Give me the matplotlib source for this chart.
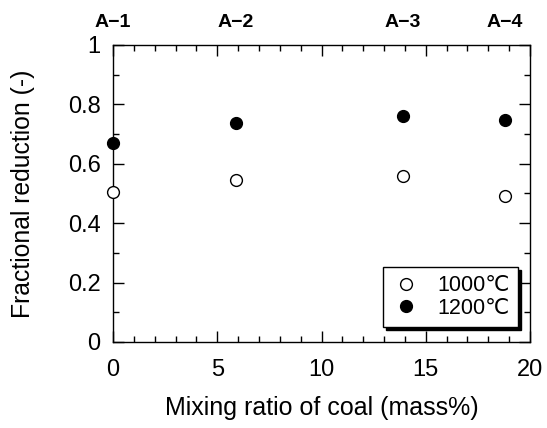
import matplotlib
matplotlib.use("Agg")
import matplotlib.pyplot as plt
from matplotlib.ticker import MultipleLocator

plt.rcParams['font.family'] = ['Liberation Sans', 'DejaVu Sans']

mixing_ratio = [0, 5.9, 13.9, 18.8]
sample_labels = ['A\u22121', 'A\u22122', 'A\u22123', 'A\u22124']
red_1000 = [0.506, 0.544, 0.559, 0.490]
red_1200 = [0.669, 0.736, 0.761, 0.748]

fig = plt.figure(figsize=(5.47, 4.28), dpi=100)
ax = fig.add_axes([0.2066, 0.201, 0.7624, 0.694])

ax.plot(mixing_ratio, red_1000, 'o', ms=8.5, mfc='white', mec='black', mew=1.0,
        label='1000\u2103', clip_on=False, zorder=5)
ax.plot(mixing_ratio, red_1200, 'o', ms=8.5, mfc='black', mec='black', mew=1.0,
        label='1200\u2103', clip_on=False, zorder=5)

ax.set_xlim(0, 20)
ax.set_ylim(0, 1)
ax.xaxis.set_major_locator(MultipleLocator(5))
ax.xaxis.set_minor_locator(MultipleLocator(1))
ax.yaxis.set_minor_locator(MultipleLocator(0.1))
ax.set_yticks([0, 0.2, 0.4, 0.6, 0.8, 1.0])
ax.set_yticklabels(['0', '0.2', '0.4', '0.6', '0.8', '1'])
ax.tick_params(which='both', direction='in', top=True, right=True, labelsize=17)
ax.tick_params(which='major', length=8, width=1)
ax.tick_params(which='minor', length=4, width=1)
ax.tick_params(axis='x', which='major', pad=12)
ax.tick_params(axis='y', which='major', pad=9)
for s in ax.spines.values():
    s.set_linewidth(1.0)

ax.set_xlabel('Mixing ratio of coal (mass%)', fontsize=18, labelpad=11)
ax.set_ylabel('Fractional reduction (-)', fontsize=17.8)
ax.yaxis.set_label_coords(-0.187, 0.5)

for x, lab in zip(mixing_ratio, sample_labels):
    ax.text(x, 1.074, lab, transform=ax.get_xaxis_transform(), ha='center', va='center',
            fontsize=14, fontweight='bold')

leg = ax.legend(loc='lower right', bbox_to_anchor=(0.971, 0.05), borderaxespad=0,
                fancybox=False, edgecolor='black', framealpha=1,
                shadow={'color': 'black', 'alpha': 1}, fontsize=15.5,
                handletextpad=0.8, borderpad=0.4, labelspacing=0.05, handlelength=1.3)
leg.get_frame().set_linewidth(1.0)

fig.savefig('out.png', dpi=100)
